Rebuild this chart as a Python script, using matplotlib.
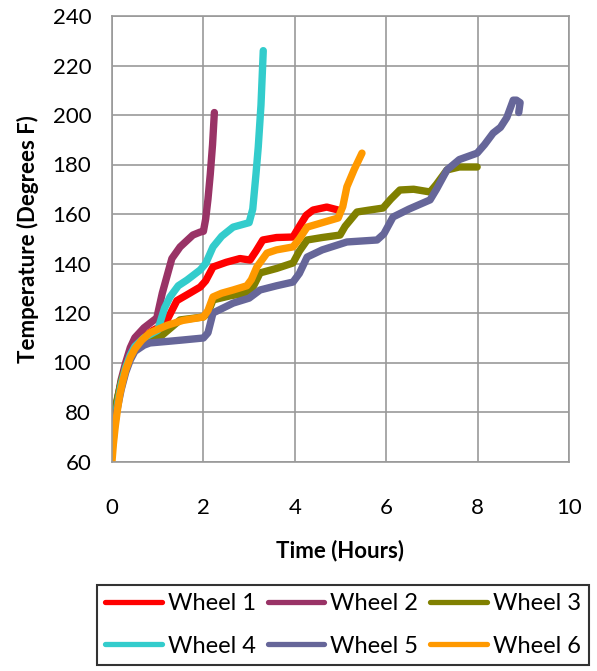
import matplotlib
matplotlib.use("Agg")
import matplotlib.pyplot as plt

plt.rcParams['font.family'] = ['Lato', 'DejaVu Sans']

# data (time in hours, temperature in deg F)
t1 = [0, 0.05, 0.1, 0.2, 0.3, 0.4, 0.5, 0.7, 0.9, 1.05, 1.2, 1.42, 1.7, 1.93, 2.05, 2.21, 2.5, 2.8, 3.02, 3.15, 3.3, 3.6, 3.96, 4.1, 4.25, 4.4, 4.7, 4.95]
T1 = [68, 76, 83, 92, 98, 103, 106.5, 110.5, 113, 114.5, 117, 125, 128, 130.5, 133, 138.6, 140.5, 142, 141.4, 145, 149.5, 150.5, 150.7, 155, 159.5, 161.6, 162.8, 161.6]

t2 = [0, 0.05, 0.1, 0.2, 0.3, 0.4, 0.5, 0.7, 0.98, 1.1, 1.31, 1.49, 1.77, 1.93, 2.0, 2.05, 2.1, 2.15, 2.2, 2.24]
T2 = [66, 75, 83, 93, 100, 106, 110, 114, 118, 128, 142, 146.7, 151.5, 152.7, 153, 158, 166, 176, 188, 201]

t3 = [0, 0.05, 0.1, 0.2, 0.3, 0.4, 0.5, 0.7, 1.05, 1.49, 2.0, 2.1, 2.21, 2.6, 2.95, 3.1, 3.24, 3.6, 3.96, 4.1, 4.27, 4.6, 4.99, 5.1, 5.36, 5.6, 5.93, 6.1, 6.3, 6.6, 6.96, 7.1, 7.33, 7.6, 7.99]
T3 = [72, 78, 84, 92, 98, 102.5, 105.5, 108, 110.3, 117.2, 118.4, 120, 125.3, 127, 128, 131, 136.2, 138, 140.2, 145, 149.5, 150.5, 151.5, 155, 160.8, 161.5, 162.4, 166, 169.7, 170, 168.9, 172, 177.8, 179, 179]

t4 = [0, 0.05, 0.1, 0.2, 0.3, 0.4, 0.5, 0.7, 0.9, 1.0, 1.05, 1.15, 1.27, 1.45, 1.64, 1.93, 2.05, 2.21, 2.4, 2.65, 3.0, 3.08, 3.15, 3.2, 3.26, 3.31]
T4 = [64, 73, 81, 91, 98, 103, 106.5, 110, 112, 113, 116, 122, 126.5, 131, 133.3, 137.4, 140, 146.7, 151, 154.7, 156.5, 162, 176, 187, 204, 226]

t5 = [0, 0.05, 0.1, 0.2, 0.3, 0.4, 0.5, 0.7, 0.83, 1.2, 1.55, 2.0, 2.1, 2.21, 2.65, 3.0, 3.24, 3.6, 3.96, 4.1, 4.27, 4.6, 5.14, 5.8, 5.95, 6.15, 6.5, 6.96, 7.1, 7.33, 7.6, 7.99, 8.15, 8.34, 8.5, 8.64, 8.72, 8.78, 8.85, 8.93, 8.9]
T5 = [68, 74, 80, 89, 96, 101, 104.5, 107, 107.9, 108.5, 109.1, 109.9, 112, 120, 124, 126, 129.3, 131, 132.5, 136, 142.6, 145.5, 148.7, 149.5, 152, 158.8, 162, 165.7, 170, 177.8, 182, 184.6, 188, 192.7, 195, 199, 203, 206, 206, 205, 201]

t6 = [0, 0.03, 0.07, 0.12, 0.17, 0.23, 0.3, 0.4, 0.5, 0.65, 0.83, 1.2, 1.55, 2.0, 2.1, 2.21, 2.4, 2.65, 2.95, 3.05, 3.17, 3.39, 3.6, 3.96, 4.1, 4.27, 4.6, 4.95, 5.05, 5.14, 5.3, 5.47]
T6 = [60, 67, 74, 81, 87, 92, 97, 102, 105.5, 109, 112, 115, 117, 118.4, 121, 126.5, 128, 129.3, 131, 133.5, 138.6, 144.2, 145.5, 146.7, 150, 154.7, 156.5, 158.4, 163, 171, 178, 184.6]

names = ['Wheel 1', 'Wheel 2', 'Wheel 3', 'Wheel 4', 'Wheel 5', 'Wheel 6']
colors = ['#FF0000', '#993366', '#808000', '#33CCCC', '#666699', '#FF9900']
series = [(t1, T1), (t2, T2), (t3, T3), (t4, T4), (t5, T5), (t6, T6)]

fig = plt.figure(figsize=(5.97, 6.71), dpi=100)
ax = fig.add_axes([112/597, 1 - 461.5/671, 457/597, 445.5/671])

lines = []
for (t, T), name, c in zip(series, names, colors):
    ln, = ax.plot(t, T, color=c, linewidth=5.3, label=name,
                  solid_capstyle='round', solid_joinstyle='round')
    lines.append(ln)

ax.set_xlim(0, 10)
ax.set_ylim(60, 240)
ax.set_xticks(range(0, 11, 2))
ax.set_yticks(range(60, 241, 20))
ax.grid(True, color='#999999', linewidth=1.2)
ax.set_axisbelow(True)
for s in ax.spines.values():
    s.set_color('#999999')
    s.set_linewidth(1.2)
ax.tick_params(length=0, labelsize=16)
ax.tick_params(axis='x', pad=26)
ax.tick_params(axis='y', pad=15)

ax.set_xlabel('Time (Hours)', fontsize=16, fontweight='bold', labelpad=16)
ax.set_ylabel('Temperature (Degrees F)', fontsize=16, fontweight='bold', labelpad=10)

# legend filled row-wise like the original
order = [0, 3, 1, 4, 2, 5]
leg = fig.legend([lines[i] for i in order], [names[i] for i in order],
                 ncol=3, loc='upper left', bbox_to_anchor=(97/597, 1 - 585/671),
                 borderaxespad=0, fontsize=17, frameon=True, fancybox=False,
                 edgecolor='black', handlelength=2.4, handletextpad=0.25,
                 columnspacing=0.5, borderpad=0.35, labelspacing=0.9)
leg.get_frame().set_linewidth(1.5)
for h in leg.get_lines():
    h.set_linewidth(3.8)

fig.savefig('out.png', dpi=100)
